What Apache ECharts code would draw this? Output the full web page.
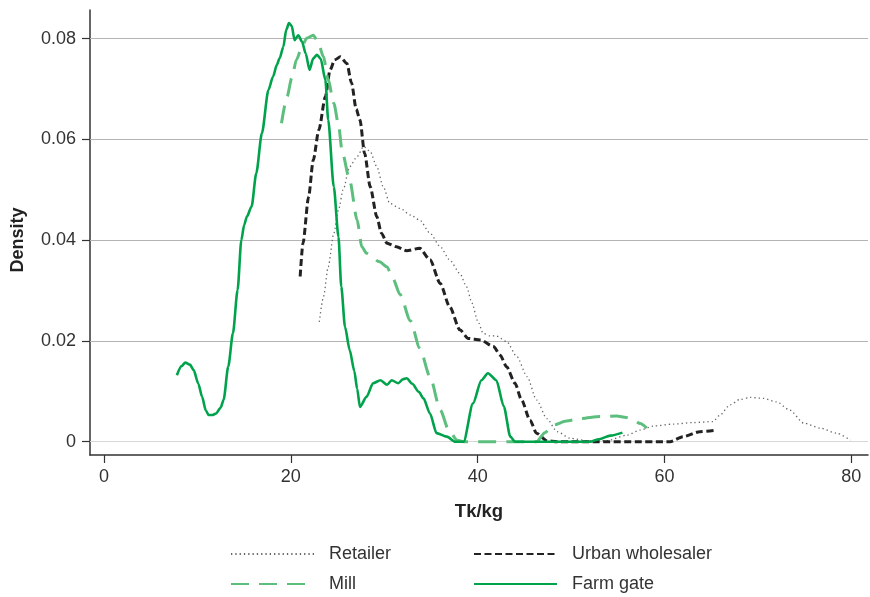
<!DOCTYPE html>
<html>
<head>
<meta charset="utf-8">
<script src="https://cdn.jsdelivr.net/npm/echarts@6/dist/echarts.min.js"></script>
<style>
html,body{margin:0;padding:0;background:#fff;}
#chart{width:870px;height:597px;}
</style>
</head>
<body>
<div id="chart"></div>
<script>
const xTicks = [0, 20, 40, 60, 80];
const yTicks = [0, 0.02, 0.04, 0.06, 0.08];
const seriesNames = ['Retailer', 'Urban wholesaler', 'Mill', 'Farm gate'];

const retailer = [[23.05,0.0238],[23.5,0.0288],[24.0,0.0347],[24.6,0.0414],[25.1,0.0460],[25.6,0.0500],[26.3,0.0546],[27.1,0.0566],[27.8,0.0586],[28.5,0.0576],[29.2,0.0546],[29.9,0.0506],[30.6,0.0473],[31.7,0.0463],[32.8,0.0450],[33.8,0.0440],[34.9,0.0414],[36.0,0.0387],[37.0,0.0361],[38.1,0.0334],[38.8,0.0308],[39.4,0.0275],[40.0,0.0240],[40.6,0.0215],[41.3,0.0210],[42.0,0.0210],[43.1,0.0199],[44.2,0.0169],[45.3,0.0129],[46.3,0.0083],[47.4,0.0046],[48.5,0.0020],[49.9,0.0007],[51.7,0.0002],[53.8,0.0002],[56.0,0.0013],[57.4,0.0023],[58.8,0.0031],[60.95,0.0035],[63.1,0.0038],[65.2,0.0040],[65.95,0.0053],[67.0,0.0073],[68.1,0.0084],[69.2,0.0088],[70.6,0.0086],[72.0,0.0079],[73.4,0.0063],[74.9,0.0037],[76.7,0.0027],[78.4,0.0017],[79.9,0.0003]];

const urbanWholesaler = [[21.0,0.0328],[21.3,0.0394],[21.9,0.0486],[22.4,0.0559],[23.0,0.0619],[23.7,0.0685],[24.2,0.0738],[24.7,0.0758],[25.3,0.0764],[26.0,0.0751],[26.5,0.0712],[27.0,0.0660],[27.4,0.0639],[27.9,0.0572],[28.5,0.0506],[29.2,0.0447],[29.7,0.0414],[30.3,0.0394],[31.3,0.0387],[32.4,0.0379],[33.8,0.0384],[34.9,0.0361],[36.0,0.0314],[37.0,0.0268],[38.1,0.0222],[39.0,0.0205],[40.3,0.0202],[41.7,0.0189],[42.4,0.0172],[43.1,0.0149],[44.0,0.0116],[44.7,0.0083],[45.6,0.0043],[46.3,0.0017],[47.4,0.0002],[48.5,0],[60.6,0],[62.0,0.0010],[63.8,0.0020],[65.6,0.0023]];

const mill = [[19.0,0.0632],[19.6,0.0685],[20.1,0.0722],[20.6,0.0758],[21.2,0.0785],[21.7,0.0801],[22.4,0.0807],[22.9,0.0794],[23.5,0.0764],[24.0,0.0718],[24.6,0.0672],[25.1,0.0630],[25.5,0.0575],[26.3,0.0519],[27.1,0.0440],[27.6,0.0387],[28.1,0.0374],[29.5,0.0357],[30.3,0.0347],[30.9,0.0325],[31.7,0.0292],[32.8,0.0240],[33.8,0.0186],[34.9,0.0129],[36.0,0.0063],[36.9,0.0023],[37.8,0.0003],[38.5,0],[46.3,0],[47.2,0.0018],[48.1,0.0033],[49.5,0.0041],[51.0,0.0046],[53.1,0.0050],[54.9,0.0051],[55.9,0.0048],[56.7,0.0043],[57.4,0.0036],[58.1,0.0027]];

const farmGate = [[7.8,0.0132],[8.3,0.0150],[8.7,0.0157],[9.2,0.0153],[9.6,0.0142],[10.1,0.0115],[10.5,0.0089],[10.9,0.0062],[11.2,0.0053],[11.6,0.0053],[12.0,0.0056],[12.5,0.0068],[12.8,0.0083],[13.3,0.0149],[13.8,0.0215],[14.3,0.0301],[14.7,0.0400],[15.0,0.0430],[15.3,0.0447],[15.8,0.0467],[16.3,0.0533],[16.9,0.0612],[17.6,0.0698],[18.1,0.0725],[18.5,0.0748],[18.8,0.0761],[19.2,0.0784],[19.5,0.0817],[19.8,0.0831],[20.1,0.0825],[20.4,0.0797],[20.8,0.0807],[21.2,0.0794],[21.6,0.0770],[22.0,0.0738],[22.4,0.0761],[22.8,0.0768],[23.2,0.0760],[23.7,0.0718],[24.0,0.0639],[24.6,0.0506],[25.1,0.0407],[25.4,0.0308],[25.8,0.0228],[26.3,0.0182],[26.8,0.0140],[27.1,0.0105],[27.4,0.0069],[28.1,0.0089],[28.8,0.0116],[29.6,0.0122],[30.3,0.0113],[30.8,0.0122],[31.5,0.0116],[32.0,0.0124],[32.4,0.0126],[33.0,0.0115],[33.7,0.0099],[34.2,0.0086],[34.9,0.0056],[35.6,0.0017],[36.7,0.0010],[37.6,0],[38.5,0],[39.5,0.0076],[40.4,0.0122],[41.1,0.0136],[42.0,0.0122],[42.8,0.0070],[43.5,0.0010],[44.0,0],[52.0,0],[53.0,0.0005],[54.2,0.0012],[55.5,0.0018]];

const FONT = "'Liberation Sans', Arial, Helvetica, sans-serif";
const chart = echarts.init(document.getElementById('chart'), null, {renderer: 'canvas'});

function legendAt(name, left, centerY) {
  return {
    data: [name], left: left, top: centerY - 7, padding: 0,
    itemWidth: 83, itemHeight: 14, selectedMode: false,
    itemStyle: {opacity: 0, borderWidth: 0},
    textStyle: {fontFamily: FONT, fontSize: 18, color: '#333', padding: [0, 0, 0, 10]}
  };
}

const option = {
  animation: false,
  backgroundColor: '#fff',
  textStyle: {fontFamily: FONT},
  grid: {left: 90, right: 2, top: 10, bottom: 142, containLabel: false},
  legend: [
    legendAt(seriesNames[0], 230, 552),
    legendAt(seriesNames[1], 473, 552),
    legendAt(seriesNames[2], 230, 582),
    legendAt(seriesNames[3], 473, 582)
  ],
  xAxis: {
    type: 'value', min: -1.5, max: 81.79,
    name: 'Tk/kg', nameLocation: 'middle', nameGap: 47,
    nameTextStyle: {fontFamily: FONT, fontSize: 18.5, fontWeight: 'bold', color: '#222'},
    axisLine: {show: true, onZero: false, lineStyle: {color: '#333', width: 1.5}},
    axisTick: {show: true, length: 8, customValues: xTicks, lineStyle: {color: '#333', width: 1.2}},
    axisLabel: {customValues: xTicks, margin: 13, fontFamily: FONT, fontSize: 18, color: '#333',
      formatter: v => String(v)},
    splitLine: {show: false}
  },
  yAxis: {
    type: 'value', min: -0.00264, max: 0.0857,
    name: 'Density', nameLocation: 'middle', nameGap: 63, nameRotate: 90,
    nameTextStyle: {fontFamily: FONT, fontSize: 18, fontWeight: 'bold', color: '#222', padding: [0, 15, 0, 0]},
    axisLine: {show: true, onZero: false, lineStyle: {color: '#333', width: 1.5}},
    axisTick: {show: true, length: 8, customValues: yTicks, lineStyle: {color: '#333', width: 1.2}},
    axisLabel: {customValues: yTicks, margin: 14, fontFamily: FONT, fontSize: 18, color: '#333',
      formatter: v => (v === 0 ? '0' : v.toFixed(2))},
    splitLine: {show: false}
  },
  series: [
    {
      name: 'grid', type: 'line', data: [], silent: true,
      markLine: {
        silent: true, symbol: 'none', z: 1, animation: false,
        label: {show: false},
        data: yTicks.map(v => ({yAxis: v, lineStyle: {color: v === 0 ? '#d6d6d6' : '#b4b4b4', width: 1.2, type: 'solid'}}))
      }
    },
    {
      name: seriesNames[0], type: 'line', data: retailer, symbol: 'none', smooth: 0.25, smoothMonotone: 'x', z: 2,
      lineStyle: {color: '#666', width: 1.3, type: [1.3, 3]}, itemStyle: {color: '#666'}
    },
    {
      name: seriesNames[1], type: 'line', data: urbanWholesaler, symbol: 'none', smooth: 0.25, smoothMonotone: 'x', z: 3,
      lineStyle: {color: '#222', width: 3, type: [7, 3.5]}, itemStyle: {color: '#222'}
    },
    {
      name: seriesNames[2], type: 'line', data: mill, symbol: 'none', smooth: 0.25, smoothMonotone: 'x', z: 4,
      lineStyle: {color: '#5dbf7d', width: 3, type: [18, 10]}, itemStyle: {color: '#5dbf7d'}
    },
    {
      name: seriesNames[3], type: 'line', data: farmGate, symbol: 'none', smooth: 0.25, smoothMonotone: 'x', z: 5,
      lineStyle: {color: '#00a24c', width: 2.6, type: 'solid'}, itemStyle: {color: '#00a24c'}
    }
  ]
};
chart.setOption(option);
</script>
</body>
</html>
